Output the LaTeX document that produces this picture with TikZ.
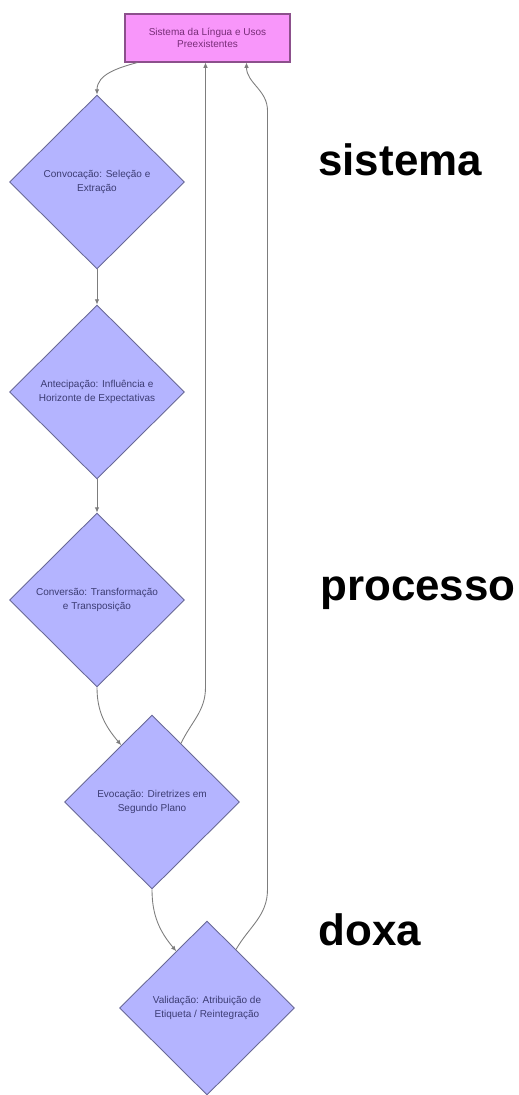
\documentclass[tikz,border=0pt]{standalone}
\usepackage{fontspec}
\setmainfont{Liberation Sans}
\usetikzlibrary{shapes.geometric, calc, arrows.meta}
\tikzset{>={Latex[length=3pt,width=2.6pt]}}
\definecolor{losango}{RGB}{180,180,255}
\definecolor{losangoborda}{RGB}{105,105,150}
\definecolor{rosa}{RGB}{248,150,250}
\definecolor{rosaborda}{RGB}{140,80,140}
\definecolor{textoazul}{RGB}{60,60,115}
\definecolor{textorosa}{RGB}{120,45,120}
\definecolor{linha}{RGB}{125,125,125}
\tikzset{
    etapa/.style={diamond, draw=losangoborda, fill=losango, line width=0.5pt,
        minimum width=3.5cm, minimum height=3.48cm, inner sep=0pt, align=center,
        text=textoazul, font=\fontsize{5.7}{8}\selectfont},
    fonte/.style={rectangle, draw=rosaborda, fill=rosa, line width=0.6pt,
        minimum width=3.3cm, minimum height=0.96cm, inner sep=0pt, align=center,
        text=textorosa, font=\fontsize{5.7}{6.6}\selectfont},
    rotulo/.style={anchor=base west, inner sep=0pt, font=\fontsize{25}{30}\selectfont\bfseries},
    liga/.style={draw=linha, line width=0.5pt, ->}
}

\begin{document}
\begin{tikzpicture}[x=0.02cm, y=0.02cm]
    \useasboundingbox (0, 0) rectangle (518, -1095);
    \node[fonte](sis) at(207.5, -38){Sistema da Língua e Usos\\Preexistentes};
    \node[etapa](conv) at(97, -182){Convocação: Seleção e\\Extração};
    \node[etapa](ant) at(97, -392){Antecipação: Influência e\\Horizonte de Expectativas};
    \node[etapa](conver) at(97, -600){Conversão: Transformação\\e Transposição};
    \node[etapa](evoc) at(152, -802){Evocação: Diretrizes em\\Segundo Plano};
    \node[etapa](valid) at(207, -1008){Validação: Atribuição de\\Etiqueta / Reintegração};
    \node[rotulo](lsis) at(318, -175){sistema};
    \node[rotulo](lproc) at(320, -600){processo};
    \node[rotulo](ldoxa) at(318, -945){doxa};
    % retornos ao sistema
    \coordinate(volta1) at($(sis.south west)+(81, 0)$);
    \coordinate(volta2) at($(sis.south west)+(122, 0)$);
    \coordinate(sobe) at($(volta2)+(21, -48)$);
    \draw[liga]($(sis.south west)+(13, 0)$) to[out=-165, in=90] (conv.north);
    \draw[liga](conv.south)--(ant.north);
    \draw[liga](ant.south)--(conver.north);
    \draw[liga](conver.south) to[out=-90, in=130] ($(evoc.north)!0.35!(evoc.west)$);
    \draw[liga]($(evoc.north)!0.33!(evoc.east)$) to[out=65, in=-90] (volta1 |- conver.south)--(volta1);
    \draw[liga](evoc.south) to[out=-90, in=130] ($(valid.north)!0.35!(valid.west)$);
    \draw[liga]($(valid.north)!0.33!(valid.east)$) to[out=60, in=-90] (sobe |- evoc.south)--(sobe) to[out=90, in=-90] (volta2);
\end{tikzpicture}
\end{document}
